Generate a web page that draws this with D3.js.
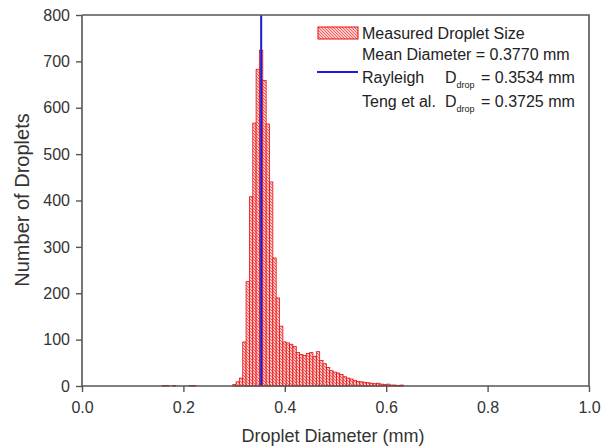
<!DOCTYPE html>
<html><head><meta charset="utf-8">
<script src="https://cdn.jsdelivr.net/npm/d3@7/dist/d3.min.js"></script>
<style>body{margin:0;background:#fff}svg{display:block}text{font-family:"Liberation Sans",Arial,sans-serif}</style>
</head><body><div id="chart"></div>
<script>
// ---- data ----
const binStart = 0.1586;   // mm, left edge of first bin
const binWidth = 0.0066;   // mm
const counts = [1,1,0,1,0,0,0,0,1,1,0,0,0,0,0,0,0,0,0,0,0,
  3,9,17,95,225,408,567,683,724,659,565,440,276,190,129,95,
  93,90,85,72,68,66,70,72,64,74,55,48,40,33,30,28,25,20,17,15,12,10,9,8,7,6,5,6,4,3,4,2,2,1,2];
const rayleighD = 0.3534;
const xTicks = [0.0,0.2,0.4,0.6,0.8,1.0];
const yTicks = [0,100,200,300,400,500,600,700,800];
const legendRows = ["Measured Droplet Size","Mean Diameter = 0.3770 mm","Rayleigh","Teng et al."];
const legendD = ["= 0.3534 mm","= 0.3725 mm"];

// ---- chart ----
const W=610,H=446;
const L=82,R=589,T=15,B=386;
const svg=d3.select("#chart").append("svg").attr("width",W).attr("height",H);
const x=d3.scaleLinear().domain([0,1]).range([L,R]);
const y=d3.scaleLinear().domain([0,800]).range([B,T]);

const defs=svg.append("defs");
const pat=defs.append("pattern").attr("id","hatch").attr("patternUnits","userSpaceOnUse")
  .attr("width",3).attr("height",3);
pat.append("rect").attr("width",3).attr("height",3).attr("fill","#ffcccc");
pat.append("path").attr("d","M-1,-1 L4,4 M-1,2 L1,4 M2,-1 L4,1").attr("stroke","#ff4848").attr("stroke-width",0.9);

const bins=counts.map((c,i)=>({x0:binStart+i*binWidth,x1:binStart+(i+1)*binWidth,c}));
svg.append("g").selectAll("rect").data(bins.filter(d=>d.c>0)).join("rect")
  .attr("x",d=>x(d.x0)).attr("width",d=>x(d.x1)-x(d.x0))
  .attr("y",d=>y(d.c)).attr("height",d=>y(0)-y(d.c))
  .attr("fill","url(#hatch)").attr("stroke","#e01010").attr("stroke-width",0.8);

// Rayleigh line
svg.append("line").attr("x1",x(rayleighD)).attr("x2",x(rayleighD)).attr("y1",y(0)).attr("y2",y(800))
  .attr("stroke","#1a1ae0").attr("stroke-width",2);

// axes
const axCol="#555";
const xa=svg.append("g").attr("transform",`translate(0,${B})`)
  .call(d3.axisBottom(x).tickValues(xTicks).tickFormat(d3.format(".1f")).tickSize(6).tickPadding(10));
const ya=svg.append("g").attr("transform",`translate(${L},0)`)
  .call(d3.axisLeft(y).tickValues(yTicks).tickSize(6).tickPadding(6));
[xa,ya].forEach(g=>{
  g.select(".domain").attr("stroke",axCol).attr("stroke-width",1.6);
  g.selectAll(".tick line").attr("stroke",axCol).attr("stroke-width",1.4);
  g.selectAll(".tick text").attr("fill","#333").style("font-size","16px");
});
xa.select(".domain").attr("d",`M${L},0H${R}`);
ya.select(".domain").attr("d",`M0,${B}V${T}`);
// frame top/right
svg.append("path").attr("d",`M${L},${T}H${R}V${B}`).attr("fill","none").attr("stroke",axCol).attr("stroke-width",1.6);

// axis titles
svg.append("text").attr("x",333).attr("y",442).attr("text-anchor","middle")
  .attr("fill","#333").style("font-size","18px").text("Droplet Diameter (mm)");
svg.append("text").attr("transform",`translate(29,200) rotate(-90)`).attr("text-anchor","middle")
  .attr("fill","#333").style("font-size","20px").text("Number of Droplets");

// legend
const lg=svg.append("g");
lg.append("rect").attr("x",318).attr("y",27).attr("width",40).attr("height",12)
  .attr("fill","url(#hatch)").attr("stroke","#e01010").attr("stroke-width",1);
lg.append("line").attr("x1",317).attr("x2",358).attr("y1",72).attr("y2",72).attr("stroke","#1a1ae0").attr("stroke-width",2);
const ty=[39,60,83,107];
legendRows.forEach((t,i)=>lg.append("text").attr("x",362).attr("y",ty[i]).attr("fill","#222").style("font-size","16px").text(t));
legendD.forEach((t,i)=>{
  const yy=ty[i+2];
  const tx=lg.append("text").attr("x",445).attr("y",yy).attr("fill","#222").style("font-size","16px");
  tx.append("tspan").text("D");
  tx.append("tspan").attr("dy",5).style("font-size","9px").text("drop");
  tx.append("tspan").attr("x",481).attr("dy",-5).text(t);
});
</script></body></html>
